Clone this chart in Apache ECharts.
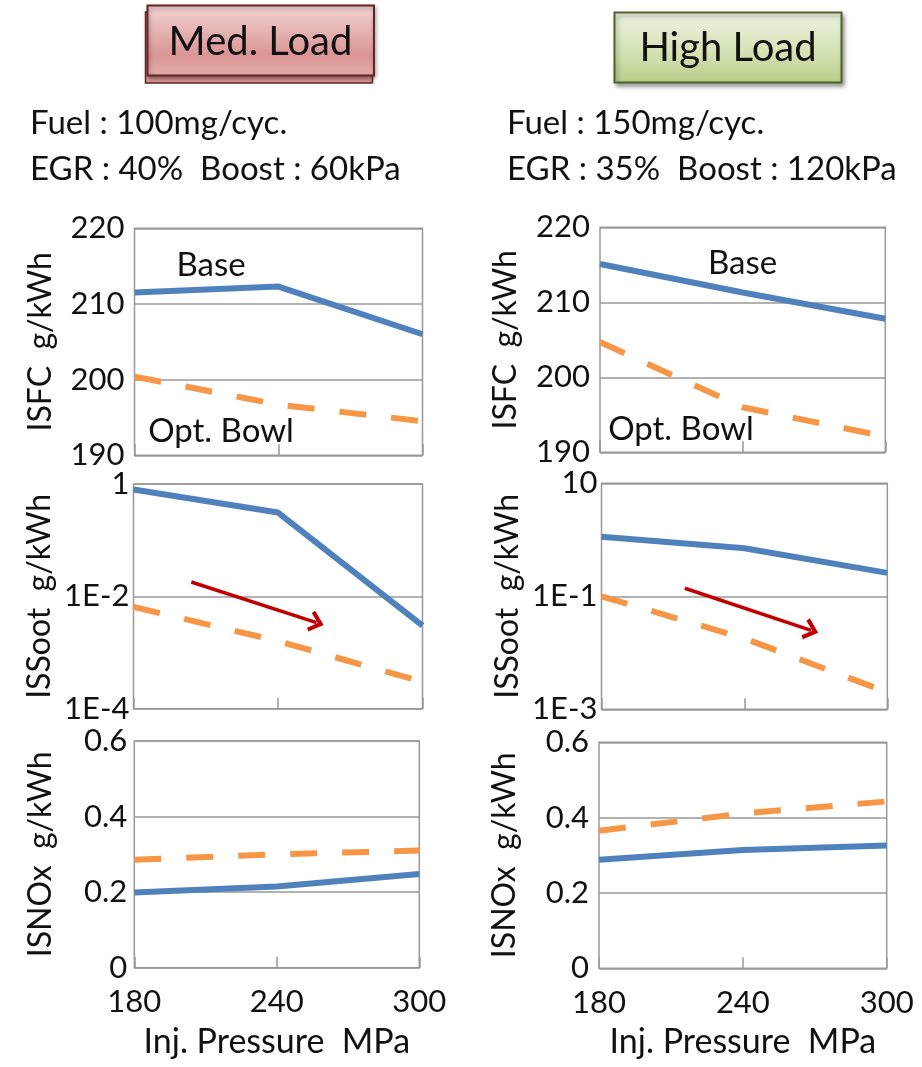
<!DOCTYPE html>
<html>
<head>
<meta charset="utf-8">
<script src="https://cdn.jsdelivr.net/npm/echarts@6/dist/echarts.min.js"></script>
<style>
  html, body { margin: 0; padding: 0; background: #fff; }
  #main { width: 922px; height: 1067px; }
</style>
</head>
<body>
<div id="main"></div>
<script>
// injection pressure, MPa
var pressure = [180, 240, 300];

// Med. Load
var isfcBaseMed = [211.5, 212.3, 206.0];
var isfcOptMed = [200.4, 196.7, 194.5];
var sootBaseMed = [0.80, 0.31, 0.003];
var sootOptMed = [0.0065, 0.0016, 0.0003];
var noxBaseMed = [0.199, 0.215, 0.248];
var noxOptMed = [0.286, 0.300, 0.310];
var arrowMed = [[204, 0.018], [256, 0.0034]];

// High Load
var isfcBaseHigh = [215.1, 211.3, 207.8];
var isfcOptHigh = [204.7, 196.0, 192.1];
var sootBaseHigh = [1.13, 0.71, 0.26];
var sootOptHigh = [0.10, 0.018, 0.002];
var noxBaseHigh = [0.288, 0.314, 0.326];
var noxOptHigh = [0.365, 0.411, 0.443];
var arrowHigh = [[215, 0.139], [268, 0.025]];

var font = 'Lato';
var ink = '#111';
var gray = '#999';
var blue = '#4F81BD';
var orange = '#F79646';

var myChart = echarts.init(document.getElementById('main'));

function pairs(ys) {
  return pressure.map(function (p, i) { return [p, ys[i]]; });
}

// log labels: only every second decade, counted from the bottom one
function expLabel(minExp) {
  return function (v) {
    var e = Math.round(Math.log10(v));
    if ((e - minExp) % 2 !== 0) return '';
    return e >= 0 ? String(Math.round(v)) : '1E' + e;
  };
}

function xAx(gi, last) {
  return {
    type: 'value', gridIndex: gi, min: 180, max: 300, interval: 60,
    axisLine: { show: false },
    splitLine: { show: false },
    axisTick: { show: true, inside: true, length: 11, lineStyle: { color: gray, width: 1.5 } },
    axisLabel: { show: last, margin: 19, fontSize: 31, color: ink, fontFamily: font },
    name: last ? 'Inj. Pressure  MPa' : '',
    nameLocation: 'middle', nameGap: 57,
    nameTextStyle: { fontSize: 34, color: ink, fontFamily: font }
  };
}

function yAx(gi, o) {
  var ax = {
    type: o.type || 'value', gridIndex: gi, min: o.min, max: o.max,
    axisLine: { show: false },
    axisTick: { show: false },
    splitLine: { show: true, lineStyle: { color: o.split || gray, width: 1.5 } },
    axisLabel: { margin: o.margin, fontSize: 31, color: ink, fontFamily: font },
    name: o.name, nameLocation: 'middle', nameGap: 78,
    nameTextStyle: { fontSize: 32, color: ink, fontFamily: font }
  };
  if (o.interval) ax.interval = o.interval;
  if (o.type === 'log') {
    ax.logBase = 10;
    ax.axisLabel.formatter = o.formatter;
  }
  return ax;
}

function line(name, gi, ys, dashed, extra) {
  var s = {
    name: name, type: 'line', xAxisIndex: gi, yAxisIndex: gi,
    data: pairs(ys), symbol: 'none', silent: true, animation: false,
    lineStyle: { color: dashed ? orange : blue, width: 6, type: dashed ? [27, 25] : 'solid', cap: 'butt' }
  };
  if (extra) s.markLine = extra;
  return s;
}

function arrow(pts) {
  return {
    silent: true, animation: false,
    symbol: ['none', 'path://M0,10 L10,0 L20,10 L17,12 L10,5 L3,12 Z'],
    symbolSize: [22, 15],
    lineStyle: { color: '#C00000', width: 3.5, type: 'solid' },
    label: { show: false },
    data: [[{ coord: pts[0] }, { coord: pts[1] }]]
  };
}

var logSplit = [gray, 'transparent'];

var option = {
  animation: false,
  grid: [
    { left: 134.5, top: 228.3, width: 288, height: 227 },
    { left: 133.5, top: 484, width: 289, height: 224.7 },
    { left: 134.3, top: 741, width: 285, height: 226.7 },
    { left: 600, top: 227.3, width: 285.3, height: 225 },
    { left: 601.5, top: 483.3, width: 285.8, height: 226 },
    { left: 599, top: 742.3, width: 287.7, height: 226 }
  ].map(function (g) {
    g.show = true; g.borderColor = gray; g.borderWidth = 1.5; g.containLabel = false;
    return g;
  }),
  xAxis: [xAx(0, false), xAx(1, false), xAx(2, true), xAx(3, false), xAx(4, false), xAx(5, true)],
  yAxis: [
    yAx(0, { min: 190, max: 220, interval: 10, margin: 10, name: 'ISFC  g/kWh' }),
    yAx(1, { type: 'log', min: 1e-4, max: 1, margin: 4, split: logSplit, formatter: expLabel(-4), name: 'ISSoot  g/kWh' }),
    yAx(2, { min: 0, max: 0.6, interval: 0.2, margin: 7, name: 'ISNOx  g/kWh' }),
    yAx(3, { min: 190, max: 220, interval: 10, margin: 10, name: 'ISFC  g/kWh' }),
    yAx(4, { type: 'log', min: 1e-3, max: 10, margin: 4, split: logSplit, formatter: expLabel(-3), name: 'ISSoot  g/kWh' }),
    yAx(5, { min: 0, max: 0.6, interval: 0.2, margin: 10, name: 'ISNOx  g/kWh' })
  ],
  series: [
    line('Base', 0, isfcBaseMed, false),
    line('Opt. Bowl', 0, isfcOptMed, true),
    line('Opt. Bowl', 1, sootOptMed, true),
    line('Base', 1, sootBaseMed, false, arrow(arrowMed)),
    line('Opt. Bowl', 2, noxOptMed, true),
    line('Base', 2, noxBaseMed, false),
    line('Base', 3, isfcBaseHigh, false),
    line('Opt. Bowl', 3, isfcOptHigh, true),
    line('Opt. Bowl', 4, sootOptHigh, true),
    line('Base', 4, sootBaseHigh, false, arrow(arrowHigh)),
    line('Opt. Bowl', 5, noxOptHigh, true),
    line('Base', 5, noxBaseHigh, false)
  ],
  graphic: [
    // Med. Load box
    { type: 'rect', shape: { x: 145.5, y: 12, width: 227, height: 71 },
      style: { fill: '#d99694', stroke: '#632523', lineWidth: 1.5 } },
    { type: 'rect', shape: { x: 147.5, y: 5.5, width: 226.5, height: 70 },
      style: {
        fill: new echarts.graphic.LinearGradient(0, 0, 0, 1, [
          { offset: 0, color: '#f3d5d4' }, { offset: 0.7, color: '#d99594' }, { offset: 1, color: '#e4adac' }
        ]),
        stroke: '#632523', lineWidth: 2,
        shadowBlur: 4, shadowColor: 'rgba(0,0,0,0.35)', shadowOffsetX: 1, shadowOffsetY: 2
      } },
    { type: 'text', style: { text: 'Med. Load', x: 260.5, y: 42, align: 'center', verticalAlign: 'middle',
      fontSize: 40, fontFamily: font, fill: ink } },
    // High Load box
    { type: 'rect', shape: { x: 614.5, y: 12.5, width: 227, height: 70 },
      style: {
        fill: new echarts.graphic.LinearGradient(0, 0, 0, 1, [
          { offset: 0, color: '#eef3e2' }, { offset: 0.55, color: '#d5e3b6' }, { offset: 1, color: '#b8cd88' }
        ]),
        stroke: '#4f6228', lineWidth: 2,
        shadowBlur: 4, shadowColor: 'rgba(0,0,0,0.35)', shadowOffsetX: 2, shadowOffsetY: 3
      } },
    { type: 'text', style: { text: 'High Load', x: 728, y: 48, align: 'center', verticalAlign: 'middle',
      fontSize: 40, fontFamily: font, fill: ink } },
    // conditions
    { type: 'text', style: { text: 'Fuel : 100mg/cyc.', x: 30, y: 123, verticalAlign: 'middle', fontSize: 33, fontFamily: font, fill: ink } },
    { type: 'text', style: { text: 'EGR : 40%  Boost : 60kPa', x: 30, y: 169, verticalAlign: 'middle', fontSize: 33, fontFamily: font, fill: ink } },
    { type: 'text', style: { text: 'Fuel : 150mg/cyc.', x: 507, y: 123, verticalAlign: 'middle', fontSize: 33, fontFamily: font, fill: ink } },
    { type: 'text', style: { text: 'EGR : 35%  Boost : 120kPa', x: 507, y: 169, verticalAlign: 'middle', fontSize: 33, fontFamily: font, fill: ink } },
    // series labels
    { type: 'text', style: { text: 'Base', x: 211, y: 265, align: 'center', verticalAlign: 'middle', fontSize: 33, fontFamily: font, fill: ink } },
    { type: 'text', style: { text: 'Opt. Bowl', x: 221, y: 431, align: 'center', verticalAlign: 'middle', fontSize: 33, fontFamily: font, fill: ink } },
    { type: 'text', style: { text: 'Base', x: 742.5, y: 263, align: 'center', verticalAlign: 'middle', fontSize: 33, fontFamily: font, fill: ink } },
    { type: 'text', style: { text: 'Opt. Bowl', x: 681, y: 429, align: 'center', verticalAlign: 'middle', fontSize: 33, fontFamily: font, fill: ink } }
  ]
};

myChart.setOption(option);
</script>
</body>
</html>
